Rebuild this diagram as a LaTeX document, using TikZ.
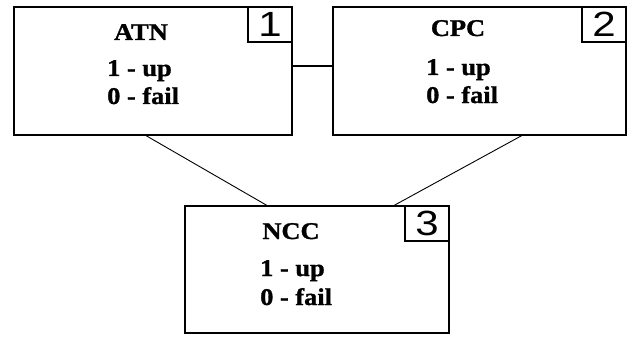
\documentclass[tikz,border=0pt]{standalone}
\usepackage{fontspec}
\usetikzlibrary{calc}
\newfontfamily\tbfont[FakeStretch=1.1,BoldFeatures={FakeBold=1.2}]{Liberation Serif}
\newfontfamily\dgfont[FakeStretch=1.2]{Liberation Sans}
\tikzset{
  box/.style={draw, line width=1.8pt, rectangle, inner sep=0pt, outer sep=0pt, anchor=north west},
  numbox/.style={draw, line width=1.6pt, rectangle, inner sep=0pt, outer sep=0pt,
     minimum width=44pt, minimum height=35pt, anchor=north east,
     font=\dgfont\fontsize{35}{35}\selectfont},
  title/.style={anchor=base, inner sep=0pt, font=\tbfont\bfseries\fontsize{24}{24}\selectfont},
  txt/.style={anchor=base west, inner sep=0pt, font=\tbfont\bfseries\fontsize{24}{24}\selectfont},
  link/.style={line width=0.9pt},
  thicklink/.style={line width=1.8pt}
}
\begin{document}
\begin{tikzpicture}[x=1pt,y=-1pt]
\useasboundingbox (0,0) rectangle (630,337);
% boxes
\node[box, minimum width=278pt, minimum height=128pt] (atn) at (14,7) {};
\node[box, minimum width=293pt, minimum height=128pt] (cpc) at (333,7) {};
\node[box, minimum width=264pt, minimum height=127pt] (ncc) at (185,206) {};
% number boxes
\node[numbox] (n1) at (atn.north east) {1};
\node[numbox] (n2) at (cpc.north east) {2};
\node[numbox] (n3) at (ncc.north east) {3};
% texts
\node[title] (t1) at (141,40) {ATN};
\node[txt] (a1) at (107,76) {1 - up};
\node[txt] (b1) at (107,104) {0 - fail};
\node[title] (t2) at (458,36) {CPC};
\node[txt] (a2) at (426,75) {1 - up};
\node[txt] (b2) at (426,103) {0 - fail};
\node[title] (t3) at (291,239) {NCC};
\node[txt] (a3) at (260,276) {1 - up};
\node[txt] (b3) at (260,305) {0 - fail};
% connectors
\coordinate (p12) at ($(atn.north east)!0.46!(atn.south east)$);
\draw[thicklink] (p12) -- (p12 -| cpc.west);
\draw[link] ($(atn.south west)!0.471!(atn.south east)$) -- ($(ncc.north west)!0.314!(ncc.north east)$);
\draw[link] ($(cpc.south west)!0.648!(cpc.south east)$) -- ($(ncc.north west)!0.788!(ncc.north east)$);
\end{tikzpicture}
\end{document}
